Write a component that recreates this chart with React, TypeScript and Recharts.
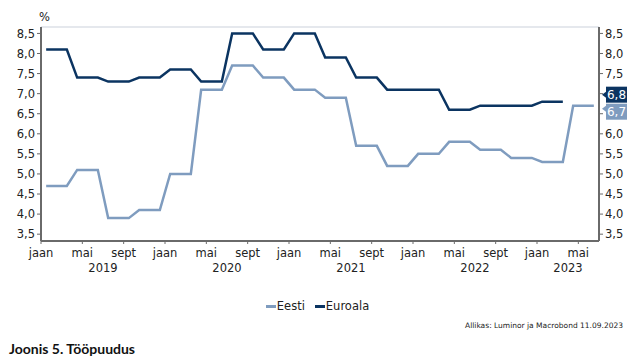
import { LineChart, Line, XAxis, YAxis, CartesianGrid, Legend, ReferenceLine } from 'recharts';

const START_YEAR = 2019;
const N_MONTHS = 54;
const MONTH_NAMES: Record<number, string> = { 0: 'jaan', 4: 'mai', 8: 'sept' };

// monthly points, month index 0 = jaan 2019 (plotted mid-month)
const monthIdx = [
  0, 1, 2, 3, 4, 5, 6, 7, 8, 9, 10, 11,
  12, 13, 14, 15, 16, 17, 18, 19, 20, 21, 22, 23,
  24, 25, 26, 27, 28, 29, 30, 31, 32, 33, 34, 35,
  36, 37, 38, 39, 40, 41, 42, 43, 44, 45, 46, 47,
  48, 49, 50, 51, 52, 53,
];

const eesti = [
  4.7, 4.7, 4.7, 5.1, 5.1, 5.1, 3.9, 3.9, 3.9, 4.1, 4.1, 4.1,
  5.0, 5.0, 5.0, 7.1, 7.1, 7.1, 7.7, 7.7, 7.7, 7.4, 7.4, 7.4,
  7.1, 7.1, 7.1, 6.9, 6.9, 6.9, 5.7, 5.7, 5.7, 5.2, 5.2, 5.2,
  5.5, 5.5, 5.5, 5.8, 5.8, 5.8, 5.6, 5.6, 5.6, 5.4, 5.4, 5.4,
  5.3, 5.3, 5.3, 6.7, 6.7, 6.7,
];

const euroala = [
  8.1, 8.1, 8.1, 7.4, 7.4, 7.4, 7.3, 7.3, 7.3, 7.4, 7.4, 7.4,
  7.6, 7.6, 7.6, 7.3, 7.3, 7.3, 8.5, 8.5, 8.5, 8.1, 8.1, 8.1,
  8.5, 8.5, 8.5, 7.9, 7.9, 7.9, 7.4, 7.4, 7.4, 7.1, 7.1, 7.1,
  7.1, 7.1, 7.1, 6.6, 6.6, 6.6, 6.7, 6.7, 6.7, 6.7, 6.7, 6.7,
  6.8, 6.8, 6.8, null, null, null,
];

const yTicks = [3.5, 4.0, 4.5, 5.0, 5.5, 6.0, 6.5, 7.0, 7.5, 8.0, 8.5];
const xTicks = [0, 4, 8, 12, 16, 20, 24, 28, 32, 36, 40, 44, 48, 52];

const EESTI_COLOR = '#7f9cbf';
const EURO_COLOR = '#0b3461';
const AXIS_COLOR = '#6a6a6a';
const FONT = '"DejaVu Sans", Verdana, sans-serif';

const W = 635;
const H = 359;
const MARGIN = { top: 27, right: 6, bottom: 64, left: 6 };
const Y_W = 35;
const Y_W_RIGHT = 30;
const PLOT_W = W - MARGIN.left - MARGIN.right - Y_W - Y_W_RIGHT;
const PX_PER_MONTH = PLOT_W / N_MONTHS;

const data = monthIdx.map((m, i) => ({ x: m + 0.5, eesti: eesti[i], euroala: euroala[i] }));

const lastOf = (arr: (number | null)[]) => {
  const vals = arr.filter((v) => v != null) as number[];
  return vals[vals.length - 1];
};

const fmt = (v: number) => v.toFixed(1).replace('.', ',');

const lastEesti = lastOf(eesti);
const lastEuro = lastOf(euroala);

// right-axis labels hidden where the value tags sit
const fmtRight = (v: number) =>
  Math.abs(v - lastEesti) < 0.35 || Math.abs(v - lastEuro) < 0.35 ? '' : fmt(v);

function MonthTick(props: any) {
  const { x, y, payload } = props;
  const v = payload.value as number;
  const label = MONTH_NAMES[v % 12];
  const isJan = v % 12 === 0;
  const yearOffset = Math.min(6, (N_MONTHS - v) / 2) * PX_PER_MONTH;
  return (
    <g fontFamily={FONT} fontSize={11.5} fill="#222">
      <text x={x} y={y + 11} textAnchor="middle">{label}</text>
      {isJan && (
        <text x={x + yearOffset} y={y + 26} textAnchor="middle">{START_YEAR + v / 12}</text>
      )}
    </g>
  );
}

function ValueTag(props: any) {
  const { viewBox, text, fill, dy, tipDy } = props;
  if (!viewBox) return null;
  const right = viewBox.x + viewBox.width;
  const cy = viewBox.y + dy;
  const bx = right + 7;
  const tipY = cy + tipDy;
  return (
    <g>
      <polygon points={`${right + 3},${tipY} ${bx},${tipY - 3} ${bx},${tipY + 3}`} fill={fill} />
      <rect x={bx} y={cy - 8} width={21} height={16} fill={fill} />
      <text x={bx + 10.5} y={cy + 4.5} textAnchor="middle" fill="#fff" fontFamily={FONT} fontSize={12}>
        {text}
      </text>
    </g>
  );
}

function LegendContent() {
  const items = [
    { name: 'Eesti', color: EESTI_COLOR },
    { name: 'Euroala', color: EURO_COLOR },
  ];
  return (
    <div style={{ display: 'flex', justifyContent: 'center', gap: 10, fontFamily: FONT, fontSize: 11.5, color: '#222' }}>
      {items.map((it) => (
        <div key={it.name} style={{ display: 'flex', alignItems: 'center' }}>
          <span style={{ display: 'inline-block', width: 10, height: 3, background: it.color, marginRight: 1 }} />
          <span>{it.name}</span>
        </div>
      ))}
    </div>
  );
}

export default function App() {
  return (
    <div style={{ position: 'absolute', left: 0, top: 0, width: W, height: H, background: '#fff', overflow: 'hidden' }}>
      <div style={{ position: 'absolute', left: 39, top: 10, fontFamily: FONT, fontSize: 11.5, color: '#222' }}>%</div>
      <LineChart width={W} height={H} data={data} margin={MARGIN}>
        <CartesianGrid vertical={false} stroke="#dce1e7" strokeWidth={1.5} />
        <XAxis
          dataKey="x"
          type="number"
          domain={[0, N_MONTHS]}
          ticks={xTicks}
          interval={0}
          height={40}
          tickSize={3}
          tick={<MonthTick />}
          axisLine={{ stroke: AXIS_COLOR, strokeWidth: 2 }}
          tickLine={{ stroke: AXIS_COLOR }}
        />
        <YAxis
          yAxisId="left"
          orientation="left"
          width={Y_W}
          domain={[3.33, 8.66]}
          allowDataOverflow
          ticks={yTicks}
          interval={0}
          tickFormatter={fmt}
          tickSize={4}
          tick={{ fill: '#222', fontFamily: FONT, fontSize: 11.5 }}
          axisLine={{ stroke: AXIS_COLOR, strokeWidth: 2 }}
          tickLine={{ stroke: AXIS_COLOR }}
        />
        <YAxis
          yAxisId="right"
          orientation="right"
          width={Y_W_RIGHT}
          domain={[3.33, 8.66]}
          allowDataOverflow
          ticks={yTicks}
          interval={0}
          tickFormatter={fmtRight}
          tickSize={4}
          tick={{ fill: '#222', fontFamily: FONT, fontSize: 11.5 }}
          axisLine={{ stroke: AXIS_COLOR, strokeWidth: 2 }}
          tickLine={{ stroke: AXIS_COLOR }}
        />
        <Line
          yAxisId="left"
          dataKey="eesti"
          name="Eesti"
          type="linear"
          stroke={EESTI_COLOR}
          strokeWidth={2.5}
          dot={false}
          isAnimationActive={false}
        />
        <Line
          yAxisId="left"
          dataKey="euroala"
          name="Euroala"
          type="linear"
          stroke={EURO_COLOR}
          strokeWidth={2.5}
          dot={false}
          isAnimationActive={false}
        />
        <ReferenceLine
          yAxisId="left"
          y={lastEesti}
          stroke="none"
          ifOverflow="visible"
          label={<ValueTag text={fmt(lastEesti)} fill={EESTI_COLOR} dy={6} tipDy={-3} />}
        />
        <ReferenceLine
          yAxisId="left"
          y={lastEuro}
          stroke="none"
          ifOverflow="visible"
          label={<ValueTag text={fmt(lastEuro)} fill={EURO_COLOR} dy={-7} tipDy={0} />}
        />
        <Legend
          content={<LegendContent />}
          wrapperStyle={{ position: 'absolute', top: 299, left: 0, width: W }}
        />
      </LineChart>
      <div
        style={{
          position: 'absolute',
          right: 12,
          top: 321,
          fontFamily: FONT,
          fontSize: 7.5,
          color: '#222',
        }}
      >
        Allikas: Luminor ja Macrobond 11.09.2023
      </div>
      <div
        style={{
          position: 'absolute',
          left: 9,
          top: 340,
          fontFamily: 'Lato, "Liberation Sans", sans-serif',
          fontWeight: 700,
          fontSize: 14,
          color: '#111',
        }}
      >
        Joonis 5. Tööpuudus
      </div>
    </div>
  );
}
